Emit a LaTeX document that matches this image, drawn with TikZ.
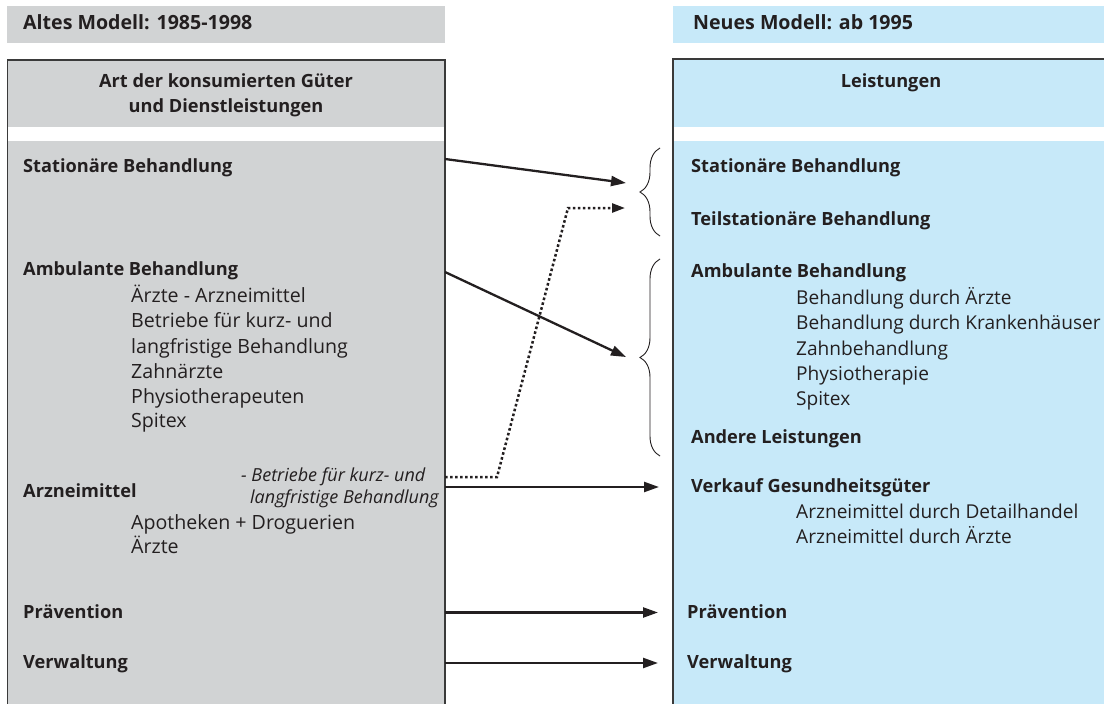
\documentclass[tikz,border=0pt]{standalone}
\usepackage{fontspec}
\setmainfont{Open Sans}
\usetikzlibrary{arrows.meta,decorations.pathreplacing}
\definecolor{lgray}{HTML}{D1D3D4}
\definecolor{lblue}{HTML}{C7E9F9}
\definecolor{ink}{HTML}{231F20}
\definecolor{frame}{HTML}{3A3A3A}
\begin{document}
\begin{tikzpicture}[x=1pt,y=-1pt,
  hd/.style={font=\bfseries\fontsize{19.6}{22}\selectfont, anchor=base west, text=ink, inner sep=0pt},
  bt/.style={font=\bfseries\fontsize{18.2}{20}\selectfont, anchor=base west, text=ink, inner sep=0pt},
  rt/.style={font=\fontsize{19.6}{22}\selectfont, anchor=base west, text=ink, inner sep=0pt},
  rtr/.style={font=\fontsize{19.1}{22}\selectfont, anchor=base west, text=ink, inner sep=0pt},
  itx/.style={font=\itshape\fontsize{18}{20}\selectfont, anchor=base west, text=ink, inner sep=0pt},
  ctr/.style={font=\bfseries\fontsize{18.2}{25}\selectfont, anchor=base, text=ink, inner sep=0pt, align=center},
  arr/.style={draw=ink, line width=2.3pt, -{Triangle[length=15pt,width=10pt]}},
  dotarr/.style={draw=ink, line width=2.5pt, dash pattern=on 2.6pt off 2.4pt, -{Triangle[length=13pt,width=9pt]}},
  brc/.style={draw=ink, line width=0.9pt, decorate, decoration={brace, amplitude=20pt}},
  boxframe/.style={draw=frame, line width=1.3pt}]
\useasboundingbox (0,0) rectangle (1104,704);
\clip (0,0) rectangle (1104,704);
\fill[white] (0,0) rectangle (1104,704);
% header bands
\fill[lgray] (7,6) rectangle (445,43);
\fill[lblue] (673,6) rectangle (1110,43);
\node[hd] (hL) at (23,30) {Altes Modell: 1985-1998};
\node[hd] (hR) at (693,30) {Neues Modell: ab 1995};
% left box
\fill[lgray] (7.5,60) rectangle (445,720);
\fill[white] (8.2,127) rectangle (444.3,141);
\draw[boxframe] (7.5,720) -- (7.5,60) -- (445,60) -- (445,720);
% right box
\fill[lblue] (673,59) rectangle (1120,720);
\fill[white] (673.7,127) rectangle (1120,141);
\draw[boxframe] (673,720) -- (673,59) -- (1120,59);
% left texts
\node[ctr] (tL) at (226,112) {Art der konsumierten Güter\\und Dienstleistungen};
\node[bt] (lStat) at (23,172) {Stationäre Behandlung};
\node[bt] (lAmb) at (23,275) {Ambulante Behandlung};
\node[rt] (lA1) at (131,302) {Ärzte - Arzneimittel};
\node[rt] (lA2) at (131,327.5) {Betriebe für kurz- und};
\node[rt] (lA3) at (131,353) {langfristige Behandlung};
\node[rt] (lA4) at (131,378) {Zahnärzte};
\node[rt] (lA5) at (131,403) {Physiotherapeuten};
\node[rt] (lA6) at (131,427.5) {Spitex};
\node[itx] (lI1) at (241,481) {- Betriebe für kurz- und};
\node[itx] (lI2) at (250,503) {langfristige Behandlung};
\node[bt] (lArz) at (23,497) {Arzneimittel};
\node[rt] (lZ1) at (131,529) {Apotheken + Droguerien};
\node[rt] (lZ2) at (131,553.5) {Ärzte};
\node[bt] (lPrv) at (23,618) {Prävention};
\node[bt] (lVer) at (23,668) {Verwaltung};
% right texts
\node[ctr] (tR) at (891,87) {Leistungen};
\node[bt] (rStat) at (691,172) {Stationäre Behandlung};
\node[bt] (rTeil) at (691,225) {Teilstationäre Behandlung};
\node[bt] (rAmb) at (691,277) {Ambulante Behandlung};
\node[rtr] (rA1) at (796,304) {Behandlung durch Ärzte};
\node[rtr] (rA2) at (796,329.5) {Behandlung durch Krankenhäuser};
\node[rtr] (rA3) at (796,355) {Zahnbehandlung};
\node[rtr] (rA4) at (796,380) {Physiotherapie};
\node[rtr] (rA5) at (796,405) {Spitex};
\node[bt] (rAnd) at (691,443) {Andere Leistungen};
\node[bt] (rVerk) at (691,492) {Verkauf Gesundheitsgüter};
\node[rtr] (rV1) at (796,518) {Arzneimittel durch Detailhandel};
\node[rtr] (rV2) at (796,543) {Arzneimittel durch Ärzte};
\node[bt] (rPrv) at (687,618) {Prävention};
\node[bt] (rVer) at (687,668) {Verwaltung};
% braces
\draw[brc] (660,236) -- (660,148);
\draw[brc] (660,456) -- (660,259);
% connector coordinates
\coordinate (sStat) at (445,159);
\coordinate (eStat) at (626,183);
\coordinate (sAmb) at (445,272);
\coordinate (eAmb) at (626,357);
\coordinate (sDot) at (445,477);
\coordinate (d1) at (497,477);
\coordinate (d2) at (568,208);
\coordinate (eDot) at (625,208);
\coordinate (sArz) at (445,487);
\coordinate (eArz) at (659,487);
\coordinate (sPrv) at (445,612.5);
\coordinate (ePrv) at (658,612.5);
\coordinate (sVer) at (445,663);
\coordinate (eVer) at (658,663);
% arrows
\draw[arr] (sStat) -- (eStat);
\draw[arr] (sAmb) -- (eAmb);
\draw[dotarr] (sDot) -- (d1) -- (d2) -- (eDot);
\draw[arr] (sArz) -- (eArz);
\draw[arr] (sPrv) -- (ePrv);
\draw[arr] (sVer) -- (eVer);
\end{tikzpicture}
\end{document}
